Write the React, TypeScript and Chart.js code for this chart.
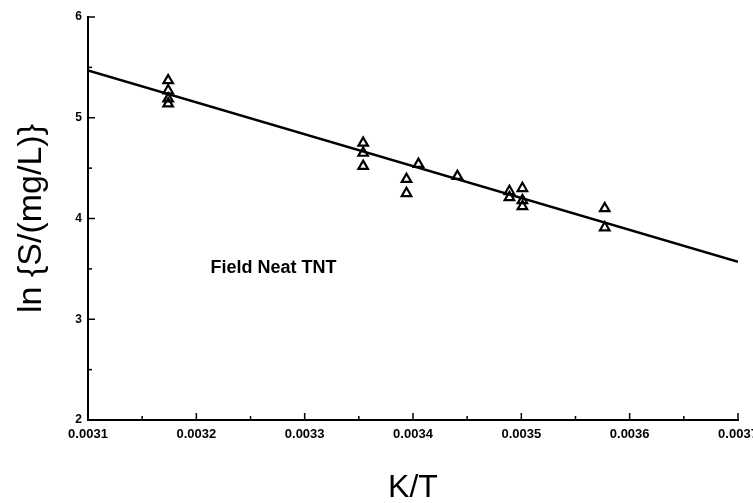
import React, { useEffect, useRef } from "react";
import { Chart, registerables } from "chart.js";

Chart.register(...registerables);

const kOverT = [
  0.003174, 0.003174, 0.003174, 0.003174,
  0.003354, 0.003354, 0.003354,
  0.003394, 0.003394, 0.003405,
  0.003441,
  0.003489, 0.003489, 0.003501, 0.003501, 0.003501,
  0.003577, 0.003577,
];
const lnS = [
  5.37, 5.27, 5.19, 5.14,
  4.75, 4.65, 4.52,
  4.39, 4.25, 4.54,
  4.42,
  4.27, 4.21, 4.30, 4.18, 4.12,
  4.10, 3.91,
];
const fitX = [0.0031, 0.0037];
const fitY = [5.47, 3.57];
const xTicks = ["0.0031", "0.0032", "0.0033", "0.0034", "0.0035", "0.0036", "0.0037"];
const yTicks = [2, 3, 4, 5, 6];
const annotation = "Field Neat TNT";
const annotationAt = [0.003213, 3.51];

const FONT = "'Liberation Sans', Arial, Helvetica, sans-serif";

const tickPlugin = {
  id: "inwardTicks",
  afterDraw(chart: any) {
    const { ctx, scales } = chart;
    const xs = scales.x;
    const ys = scales.y;
    const bottom = ys.getPixelForValue(2);
    const left = xs.getPixelForValue(0.0031);
    ctx.save();
    ctx.strokeStyle = "#000";
    ctx.lineWidth = 1.5;
    for (let i = 0; i < xTicks.length; i++) {
      const v = parseFloat(xTicks[i]);
      const px = xs.getPixelForValue(v);
      ctx.beginPath();
      ctx.moveTo(px, bottom);
      ctx.lineTo(px, bottom - 7);
      ctx.stroke();
      if (i < xTicks.length - 1) {
        const mv = (v + parseFloat(xTicks[i + 1])) / 2;
        const mpx = xs.getPixelForValue(mv);
        ctx.beginPath();
        ctx.moveTo(mpx, bottom);
        ctx.lineTo(mpx, bottom - 4);
        ctx.stroke();
      }
    }
    for (let i = 0; i < yTicks.length; i++) {
      const py = ys.getPixelForValue(yTicks[i]);
      ctx.beginPath();
      ctx.moveTo(left, py);
      ctx.lineTo(left + 7, py);
      ctx.stroke();
      if (i < yTicks.length - 1) {
        const mpy = ys.getPixelForValue((yTicks[i] + yTicks[i + 1]) / 2);
        ctx.beginPath();
        ctx.moveTo(left, mpy);
        ctx.lineTo(left + 4, mpy);
        ctx.stroke();
      }
    }
    ctx.fillStyle = "#000";
    ctx.font = `bold 18px ${FONT}`;
    ctx.textAlign = "left";
    ctx.textBaseline = "middle";
    ctx.fillText(annotation, xs.getPixelForValue(annotationAt[0]), ys.getPixelForValue(annotationAt[1]));
    ctx.restore();
  },
};

export default function App() {
  const ref = useRef<HTMLCanvasElement | null>(null);
  useEffect(() => {
    document.body.style.margin = "0";
    const canvas = ref.current!;
    const chart = new Chart(canvas, {
      type: "scatter",
      data: {
        datasets: [
          {
            type: "line",
            data: fitX.map((x, i) => ({ x, y: fitY[i] })),
            borderColor: "#000",
            borderWidth: 2.5,
            pointRadius: 0,
            fill: false,
          },
          {
            type: "scatter",
            data: kOverT.map((x, i) => ({ x, y: lnS[i] })),
            pointStyle: "triangle",
            pointRadius: 5.5,
            borderColor: "#000",
            borderWidth: 2.2,
            backgroundColor: "rgba(255,255,255,0)",
          },
        ],
      },
      options: {
        responsive: false,
        animation: false,
        layout: { padding: { top: 17, right: 15, left: 0, bottom: 0 } },
        plugins: { legend: { display: false }, tooltip: { enabled: false } },
        scales: {
          x: {
            type: "linear",
            min: 0.0031,
            max: 0.0037,
            afterBuildTicks: (s: any) => {
              s.ticks = xTicks.map((t) => ({ value: parseFloat(t) }));
            },
            ticks: {
              callback: (v: any) => Number(v).toFixed(4),
              color: "#000",
              font: { family: FONT, size: 13, weight: "bold" },
              padding: 7,
              maxRotation: 0,
              autoSkip: false,
            },
            grid: { display: false, drawTicks: false },
            border: { display: true, color: "#000", width: 2 },
            title: {
              display: true,
              text: "K/T",
              color: "#000",
              font: { family: FONT, size: 32 },
              padding: { top: 0, bottom: -4 },
            },
            afterFit: (s: any) => {
              s.height = 83;
              s.paddingLeft = 0;
              s.paddingRight = 0;
            },
          },
          y: {
            type: "linear",
            min: 2,
            max: 6,
            afterBuildTicks: (s: any) => {
              s.ticks = yTicks.map((t) => ({ value: t }));
            },
            ticks: {
              color: "#000",
              font: { family: FONT, size: 12, weight: "bold" },
              padding: 6,
            },
            grid: { display: false, drawTicks: false },
            border: { display: true, color: "#000", width: 2 },
            title: {
              display: true,
              text: "ln {S/(mg/L)}",
              color: "#000",
              font: { family: FONT, size: 34 },
              padding: { top: 11, bottom: 0 },
            },
            afterFit: (s: any) => {
              s.width = 88;
              s.paddingTop = 0;
              s.paddingBottom = 0;
            },
          },
        },
      },
      plugins: [tickPlugin],
    } as any);
    return () => chart.destroy();
  }, []);
  return (
    <div style={{ width: 753, height: 503 }}>
      <canvas ref={ref} width={753} height={503} style={{ display: "block" }} />
    </div>
  );
}
